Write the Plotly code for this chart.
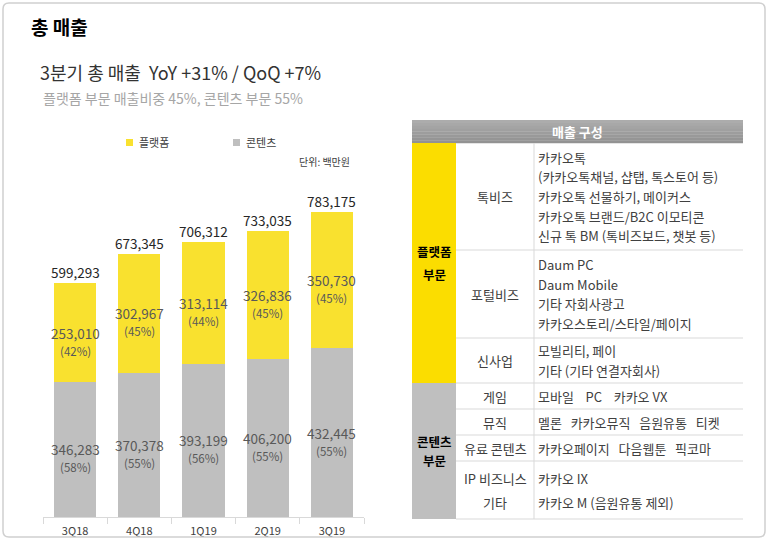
import plotly.graph_objects as go

# ---------------- data ----------------
quarters = ["3Q18", "4Q18", "1Q19", "2Q19", "3Q19"]
platform = [253010, 302967, 313114, 326836, 350730]
content = [346283, 370378, 393199, 406200, 432445]
totals = [599293, 673345, 706312, 733035, 783175]
platform_pct = ["42%", "45%", "44%", "45%", "45%"]
content_pct = ["58%", "55%", "56%", "55%", "55%"]

title_text = "총 매출"
subtitle_text = "3분기 총 매출  YoY +31% / QoQ +7%"
subsub_text = "플랫폼 부문 매출비중 45%, 콘텐츠 부문 55%"
legend_names = ["플랫폼", "콘텐츠"]
unit_text = "단위: 백만원"

table_header = "매출 구성"
table_sections = [["플랫폼", "부문"], ["콘텐츠", "부문"]]
table_subcats = [["톡비즈"], ["포털비즈"], ["신사업"], ["게임"], ["뮤직"], ["유료 콘텐츠"], ["IP 비즈니스", "기타"]]
table_desc = [
    ["카카오톡", "(카카오톡채널, 샵탭, 톡스토어 등)", "카카오톡 선물하기, 메이커스",
     "카카오톡 브랜드/B2C 이모티콘", "신규 톡 BM (톡비즈보드, 챗봇 등)"],
    ["Daum PC", "Daum Mobile", "기타 자회사광고", "카카오스토리/스타일/페이지"],
    ["모빌리티, 페이", "기타 (기타 연결자회사)"],
    ["모바일    PC    카카오 VX"],
    ["멜론   카카오뮤직   음원유통   티켓"],
    ["카카오페이지   다음웹툰   픽코마"],
    ["카카오 IX", "카카오 M (음원유통 제외)"],
]

# ---------------- layout helpers (pixels -> paper) ----------------
W, H = 768, 543
def px(x):
    return x / W
def py(y):
    return 1 - y / H

FONT = "Noto Sans CJK KR"
YELLOW = "#F9E12F"
GRAY = "#BFBFBF"
TBL_YELLOW = "#FBDD00"
TEXT_DARK = "#262626"
TEXT_MID = "#595959"

fig = go.Figure()
fig.add_trace(go.Bar(x=quarters, y=content, name=legend_names[1], marker_color=GRAY,
                     marker_line_width=0, hoverinfo="skip"))
fig.add_trace(go.Bar(x=quarters, y=platform, name=legend_names[0], marker_color=YELLOW,
                     marker_line_width=0, hoverinfo="skip"))

ann = []
shapes = []

# bar labels
for q, c, p, t, cp, pp in zip(quarters, content, platform, totals, content_pct, platform_pct):
    ann.append(dict(x=q, y=t, xref="x", yref="y", text=f"{t:,}", showarrow=False,
                    yanchor="bottom", yshift=-1, font=dict(size=13.5, color=TEXT_DARK)))
    for mid, val, pct in [(c / 2, c, cp), (c + p / 2, p, pp)]:
        ann.append(dict(x=q, y=mid, xref="x", yref="y", text=f"{val:,}", showarrow=False,
                        yanchor="middle", font=dict(size=13.5, color=TEXT_MID)))
        ann.append(dict(x=q, y=mid, xref="x", yref="y", text=f"({pct})", showarrow=False,
                        yanchor="middle", yshift=-18, font=dict(size=11.5, color=TEXT_MID)))

# titles
ann.append(dict(x=px(29), y=py(27), xref="paper", yref="paper", text=f"<b>{title_text}</b>",
                showarrow=False, xanchor="left", yanchor="middle", font=dict(size=19, color="#000000")))
ann.append(dict(x=px(38), y=py(72), xref="paper", yref="paper", text=subtitle_text,
                showarrow=False, xanchor="left", yanchor="middle", font=dict(size=18, color="#333333")))
ann.append(dict(x=px(41), y=py(98), xref="paper", yref="paper", text=subsub_text,
                showarrow=False, xanchor="left", yanchor="middle", font=dict(size=14, color="#A6A6A6")))

# legend
for (sx, color, name) in [(130, YELLOW, legend_names[0]), (237, GRAY, legend_names[1])]:
    shapes.append(dict(type="rect", xref="paper", yref="paper", x0=px(sx - 4), x1=px(sx + 3),
                       y0=py(146), y1=py(139), fillcolor=color, line_width=0))
    ann.append(dict(x=px(sx + 7), y=py(142), xref="paper", yref="paper", text=name, showarrow=False,
                    xanchor="left", yanchor="middle", font=dict(size=11, color="#404040")))
ann.append(dict(x=px(352), y=py(161), xref="paper", yref="paper", text=unit_text, showarrow=False,
                xanchor="right", yanchor="middle", font=dict(size=10, color="#404040")))

# ---------------- table ----------------
TL, TC1, TC2, TR = 412, 456, 534, 743
HEAD_T, HEAD_B = 120, 143
row_edges = [143, 250, 338, 383, 409, 435, 461, 519]
section_rows = [(0, 3), (3, 7)]
section_gap = [23, 19.5]
line_gap = [19.6, 19.6, 19.6, 19.6, 19.6, 19.6, 24]

# header gradient
steps = 8
for i in range(steps):
    y0 = HEAD_T + (HEAD_B - HEAD_T) * i / steps
    y1 = HEAD_T + (HEAD_B - HEAD_T) * (i + 1) / steps
    g = int(172 - 26 * i / (steps - 1))
    shapes.append(dict(type="rect", xref="paper", yref="paper", x0=px(TL), x1=px(TR),
                       y0=py(y1 + 0.3), y1=py(y0), fillcolor=f"rgb({g},{g},{g})", line_width=0))
ann.append(dict(x=px((TL + TR) / 2), y=py(131.5), xref="paper", yref="paper", text=f"<b>{table_header}</b>",
                showarrow=False, xanchor="center", yanchor="middle", font=dict(size=13, color="white")))

sec_colors = [TBL_YELLOW, GRAY]
for (a, b), col, lines, gap in zip(section_rows, sec_colors, table_sections, section_gap):
    shapes.append(dict(type="rect", xref="paper", yref="paper", x0=px(TL), x1=px(TC1),
                       y0=py(row_edges[b]), y1=py(row_edges[a]), fillcolor=col, line_width=0))
    mid = (row_edges[a] + row_edges[b]) / 2
    for j, s in enumerate(lines):
        yy = mid + (j - (len(lines) - 1) / 2) * gap
        ann.append(dict(x=px((TL + TC1) / 2), y=py(yy), xref="paper", yref="paper",
                        text=f"<b>{s}</b>", showarrow=False, xanchor="center", yanchor="middle",
                        font=dict(size=12.5, color="#000000")))

# horizontal lines
for e in row_edges[1:]:
    shapes.append(dict(type="line", xref="paper", yref="paper", x0=px(TC1), x1=px(TR),
                       y0=py(e), y1=py(e), line=dict(color="#D9D9D9", width=1)))
# vertical line
shapes.append(dict(type="line", xref="paper", yref="paper", x0=px(TC2), x1=px(TC2),
                   y0=py(row_edges[-1]), y1=py(row_edges[0]), line=dict(color="#D9D9D9", width=1)))

for i, (subs, descs) in enumerate(zip(table_subcats, table_desc)):
    mid = (row_edges[i] + row_edges[i + 1]) / 2
    gap = line_gap[i]
    for j, s in enumerate(subs):
        yy = mid + (j - (len(subs) - 1) / 2) * gap
        ann.append(dict(x=px((TC1 + TC2) / 2), y=py(yy), xref="paper", yref="paper", text=s,
                        showarrow=False, xanchor="center", yanchor="middle",
                        font=dict(size=13, color="#404040")))
    for j, d in enumerate(descs):
        yy = mid + (j - (len(descs) - 1) / 2) * gap
        ann.append(dict(x=px(536), y=py(yy), xref="paper", yref="paper", text=d,
                        showarrow=False, xanchor="left", yanchor="middle",
                        font=dict(size=13, color="#404040")))

# slide frame (rounded)
r = 6
x0, y0, x1, y1 = 3, 3, 765, 537
path = (f"M {px(x0 + r)} {py(y0)} L {px(x1 - r)} {py(y0)} Q {px(x1)} {py(y0)} {px(x1)} {py(y0 + r)} "
        f"L {px(x1)} {py(y1 - r)} Q {px(x1)} {py(y1)} {px(x1 - r)} {py(y1)} "
        f"L {px(x0 + r)} {py(y1)} Q {px(x0)} {py(y1)} {px(x0)} {py(y1 - r)} "
        f"L {px(x0)} {py(y0 + r)} Q {px(x0)} {py(y0)} {px(x0 + r)} {py(y0)} Z")
shapes.append(dict(type="path", xref="paper", yref="paper", path=path,
                   line=dict(color="#D0D0D0", width=1.5), fillcolor="rgba(0,0,0,0)"))

fig.update_layout(
    width=W, height=H,
    margin=dict(l=0, r=0, t=0, b=0),
    paper_bgcolor="white", plot_bgcolor="white",
    barmode="stack", bargap=0.345,
    showlegend=False,
    font=dict(family=FONT, color=TEXT_DARK),
    xaxis=dict(domain=[px(43), px(364)], showgrid=False, showline=True, linecolor="#D9D9D9",
               ticks="outside", tickson="boundaries", ticklen=6, tickcolor="#D9D9D9",
               ticklabelstandoff=4,
               tickfont=dict(size=11, color="#404040"), fixedrange=True),
    yaxis=dict(domain=[py(517), py(166)], range=[0, 900000], visible=False, fixedrange=True),
    annotations=ann,
    shapes=shapes,
)

fig.write_html("out.html", config={"displayModeBar": False},
               post_script="document.body.style.margin='0';document.body.style.overflow='hidden';")
